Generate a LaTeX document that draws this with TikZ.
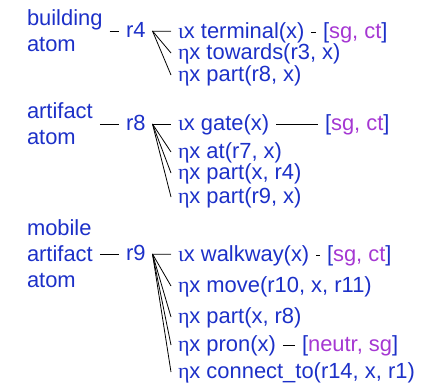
\documentclass[tikz,border=0pt]{standalone}
\usepackage{fontspec}
\setmainfont{Liberation Sans}
\newfontfamily\grk{Liberation Serif}

\definecolor{refblue}{RGB}{28,48,200}
\definecolor{featpurple}{RGB}{165,55,210}
\newcommand{\feat}[1]{[\textcolor{featpurple}{#1}]}
\newcommand{\iotx}{{\grk ι}x}
\newcommand{\etax}{{\grk η}x}

\begin{document}
\begin{tikzpicture}[x=1bp,y=-1bp,
    word/.style={text height=16bp,text depth=4bp},
    link/.style={draw,line width=0.8bp,black}]
	\useasboundingbox (0,0) rectangle (421,383);
	\begin{scope}[every node/.style={anchor=west,inner sep=0pt,outer sep=7bp,text=refblue,font=\fontsize{22}{26}\selectfont}]
		% building atom
		\node[align=left] (c4) at (20,31) {building\\atom};
		\node[word] (r4) at (119,31) {r4};
		\node[word] (i4) at (171,32) {\iotx{} terminal(x)};
		\node[word] (f4) at (316,32) {\feat{sg, ct}};
		\node[word] (e4a) at (171,53) {\etax{} towards(r3, x)};
		\node[word] (e4b) at (171,75) {\etax{} part(r8, x)};
		% artifact atom
		\node[align=left] (c8) at (20,124) {artifact\\atom};
		\node[word] (r8) at (119,124) {r8};
		\node[word] (i8) at (171,124) {\iotx{} gate(x)};
		\node[word] (f8) at (318,124) {\feat{sg, ct}};
		\node[word] (e8a) at (171,152) {\etax{} at(r7, x)};
		\node[word] (e8b) at (171,173) {\etax{} part(x, r4)};
		\node[word] (e8c) at (171,197) {\etax{} part(r9, x)};
		% mobile artifact atom
		\node[align=left] (c9) at (20,254) {mobile\\artifact\\atom};
		\node[word] (r9) at (119,254) {r9};
		\node[word] (i9) at (171,255) {\iotx{} walkway(x)};
		\node[word] (f9) at (320,255) {\feat{sg, ct}};
		\node[word] (e9a) at (171,286) {\etax{} move(r10, x, r11)};
		\node[word] (e9b) at (171,317) {\etax{} part(x, r8)};
		\node[word] (e9c) at (171,345) {\etax{} pron(x)};
		\node[word] (g9) at (295,345) {\feat{neutr, sg}};
		\node[word] (e9d) at (171,372) {\etax{} connect\_to(r14, x, r1)};
	\end{scope}
	\draw[link] (c4) -- (r4);
	\draw[link] (r4) -- (i4);
	\draw[link] (i4) -- (f4);
	\draw[link] (r4.east) -- (e4a.west);
	\draw[link] (r4.east) -- (e4b.west);
	\draw[link] (c8) -- (r8);
	\draw[link] (r8) -- (i8);
	\draw[link] (i8) -- (f8);
	\draw[link] (r8.east) -- (e8a.west);
	\draw[link] (r8.east) -- (e8b.west);
	\draw[link] (r8.east) -- (e8c.west);
	\draw[link] (c9) -- (r9);
	\draw[link] (r9) -- (i9);
	\draw[link] (i9) -- (f9);
	\draw[link] (r9.east) -- (e9a.west);
	\draw[link] (r9.east) -- (e9b.west);
	\draw[link] (r9.east) -- (e9c.west);
	\draw[link] (r9.east) -- (e9d.west);
	\draw[link] (e9c) -- (g9);
\end{tikzpicture}
\end{document}
